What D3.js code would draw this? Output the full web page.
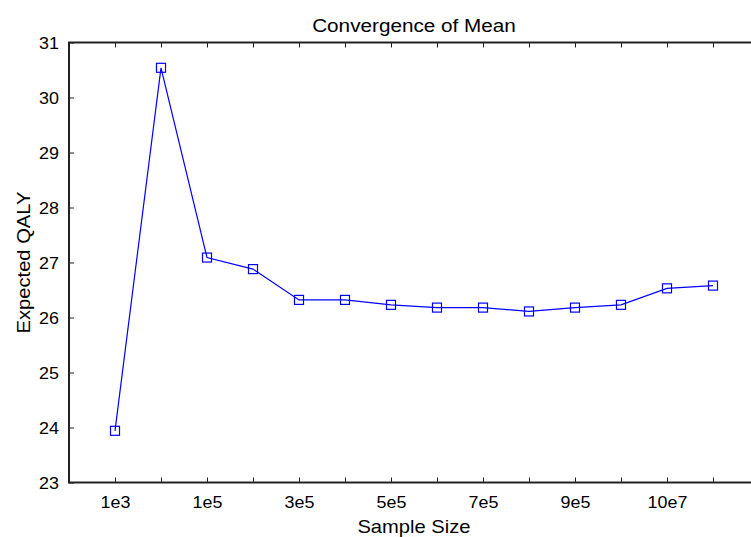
<!DOCTYPE html>
<meta charset="utf-8">
<script src="https://cdn.jsdelivr.net/npm/d3@7"></script>
<style>
  body { margin: 0; background: #fff; }
  text { font-family: "Liberation Sans", Arial, sans-serif; fill: #000; }
  .axis path { display: none; }
  .axis line { stroke: #222; stroke-width: 1; }
</style>
<div id="wrapper"></div>
<script>
  // data
  const sampleIdx = [1, 2, 3, 4, 5, 6, 7, 8, 9, 10, 11, 12, 13, 14];
  const qaly = [23.94, 30.54, 27.09, 26.88, 26.32, 26.32, 26.23, 26.18, 26.18, 26.11, 26.18, 26.23, 26.53, 26.58];
  const xTicks = [1, 2, 3, 4, 5, 6, 7, 8, 9, 10, 11, 12, 13, 14];
  const xTickLabels = { 1: "1e3", 3: "1e5", 5: "3e5", 7: "5e5", 9: "7e5", 11: "9e5", 13: "10e7" };
  const yTicks = [23, 24, 25, 26, 27, 28, 29, 30, 31];

  const W = 751, H = 537;
  const plot = { left: 69, right: 759, top: 42.5, bottom: 482.5 };
  const sx = 1.12; // the reference text is a bit wide

  const svg = d3.select("#wrapper")
    .append("svg")
    .attr("width", W)
    .attr("height", H);

  const x = d3.scaleLinear().domain([0, 15]).range([plot.left, plot.right]);
  const y = d3.scaleLinear().domain([23, 31]).range([plot.bottom, plot.top]);

  // bottom ticks (inward)
  svg.append("g")
    .attr("class", "axis")
    .attr("transform", `translate(0,${plot.bottom})`)
    .call(d3.axisBottom(x).tickValues(xTicks).tickSize(-5)
      .tickFormat(d => xTickLabels[d] || ""))
    .selectAll("text")
    .attr("y", 26)
    .attr("dy", null)
    .attr("transform", `scale(${sx},1)`)
    .style("font-size", "16px");

  // top ticks
  svg.append("g")
    .attr("class", "axis")
    .attr("transform", `translate(0,${plot.top})`)
    .call(d3.axisTop(x).tickValues(xTicks).tickSize(-5).tickFormat(""));

  // left ticks
  svg.append("g")
    .attr("class", "axis")
    .attr("transform", `translate(${plot.left},0)`)
    .call(d3.axisLeft(y).tickValues(yTicks).tickSize(-5).tickFormat(d3.format("d")))
    .selectAll("text")
    .attr("x", -10 / sx)
    .attr("dy", "0.38em")
    .attr("transform", `scale(${sx},1)`)
    .style("font-size", "16px");

  // right ticks
  svg.append("g")
    .attr("class", "axis")
    .attr("transform", `translate(${plot.right},0)`)
    .call(d3.axisRight(y).tickValues(yTicks).tickSize(-5).tickFormat(""));

  // box
  svg.append("rect")
    .attr("x", plot.left)
    .attr("y", plot.top)
    .attr("width", plot.right - plot.left)
    .attr("height", plot.bottom - plot.top)
    .attr("fill", "none")
    .attr("stroke", "#222")
    .attr("stroke-width", 2);

  const line = d3.line()
    .x((d, i) => x(sampleIdx[i]))
    .y(d => y(d));

  svg.append("path")
    .datum(qaly)
    .attr("d", line)
    .attr("fill", "none")
    .attr("stroke", "#0000ff")
    .attr("stroke-width", 1.2);

  svg.append("g")
    .selectAll("rect")
    .data(qaly)
    .join("rect")
    .attr("x", (d, i) => x(sampleIdx[i]) - 4.5)
    .attr("y", d => y(d) - 4.5)
    .attr("width", 9)
    .attr("height", 9)
    .attr("fill", "none")
    .attr("stroke", "#0000ff")
    .attr("stroke-width", 1.2);

  // labels
  const cx = (plot.left + plot.right) / 2;

  svg.append("g")
    .attr("transform", `translate(${cx},31.5)`)
    .append("text")
    .attr("text-anchor", "middle")
    .attr("transform", `scale(${sx},1)`)
    .style("font-size", "18.5px")
    .text("Convergence of Mean");

  svg.append("g")
    .attr("transform", `translate(${cx},532.5)`)
    .append("text")
    .attr("text-anchor", "middle")
    .attr("transform", `scale(${sx},1)`)
    .style("font-size", "18px")
    .text("Sample Size");

  svg.append("g")
    .attr("transform", `translate(29.5,${(plot.top + plot.bottom) / 2}) rotate(-90)`)
    .append("text")
    .attr("text-anchor", "middle")
    .attr("transform", `scale(${sx},1)`)
    .style("font-size", "18px")
    .text("Expected QALY");
</script>
